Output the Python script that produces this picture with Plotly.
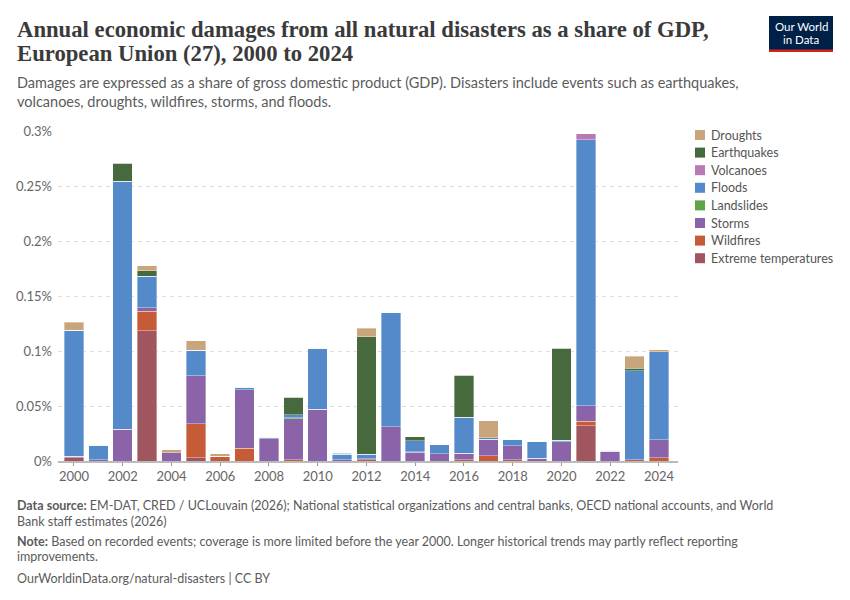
import plotly.graph_objects as go

years = list(range(2000, 2025))

extreme_temps = [0.003,0,0,0.1185,0,0.003,0,0,0,0,0,0,0,0,0,0,0,0,0,0,0,0.032,0,0,0]
wildfires     = [0,0,0,0.0176,0,0.031,0.0045,0.0115,0,0.001,0,0,0.001,0,0,0,0.001,0.005,0.001,0,0,0.004,0,0.0012,0.003]
storms        = [0.0015,0.001,0.029,0.003,0.0073,0.0433,0,0.0533,0.0203,0.0376,0.047,0.001,0.001,0.031,0.008,0.0064,0.006,0.015,0.0127,0.0027,0.0173,0.0142,0.009,0,0.0164]
landslides    = [0,0,0,0,0,0,0,0,0,0.0005,0,0,0,0,0.0005,0,0,0,0,0,0,0,0,0,0]
floods        = [0.1145,0.0133,0.2255,0.029,0,0.0233,0,0.0024,0.0015,0.003,0.0557,0.005,0.004,0.104,0.01,0.0085,0.033,0.001,0.0055,0.015,0.0015,0.2418,0.0006,0.081,0.0797]
volcanoes     = [0,0,0,0,0,0,0,0,0,0,0,0,0,0,0,0,0,0,0,0,0,0.0055,0,0,0]
earthquakes   = [0,0,0.016,0.005,0,0,0,0,0,0.016,0,0.0012,0.107,0,0.0036,0,0.038,0,0,0,0.0836,0,0,0.002,0]
droughts      = [0.007,0,0,0.0045,0.003,0.0085,0.002,0,0,0,0,0,0.0076,0,0,0,0,0.0155,0,0,0,0,0,0.011,0.002]

series = [
    ("Extreme temperatures", extreme_temps, "#A0565F"),
    ("Wildfires", wildfires, "#C65B37"),
    ("Storms", storms, "#8A63A8"),
    ("Landslides", landslides, "#5FA447"),
    ("Floods", floods, "#548AC9"),
    ("Volcanoes", volcanoes, "#B879B4"),
    ("Earthquakes", earthquakes, "#466A3E"),
    ("Droughts", droughts, "#C9A57C"),
]

y_ticks = [0, 0.05, 0.1, 0.15, 0.2, 0.25, 0.3]
y_tick_labels = ["0%", "0.05%", "0.1%", "0.15%", "0.2%", "0.25%", "0.3%"]
x_ticks = list(range(2000, 2025, 2))

W, H = 850, 600
L, R, T, B = 58, 678, 131, 461

def fx(px):
    return (px - L) / (R - L)

def fy(py):
    return (B - py) / (B - T)

fig = go.Figure()
for name, vals, col in series:
    fig.add_trace(go.Bar(
        x=years, y=vals, name=name,
        marker=dict(color=col, line=dict(color="rgba(255,255,255,0.45)", width=0.8)),
    ))

FONT = "Lato"
fig.update_layout(
    width=W, height=H,
    margin=dict(l=L, r=W - R, t=T, b=H - B, pad=0, autoexpand=False),
    paper_bgcolor="white", plot_bgcolor="white",
    barmode="stack", bargap=0.2,
    font=dict(family=FONT, size=13, color="#666"),
    showlegend=False,
    xaxis=dict(
        range=[1999.344, 2024.78], tickvals=x_ticks, ticktext=[str(t) for t in x_ticks],
        ticks="outside", ticklen=3, tickcolor="#999", showgrid=False,
        showline=True, linecolor="#bbb", linewidth=1.5, zeroline=False,
        tickfont=dict(family=FONT, size=13, color="#666"),
    ),
    yaxis=dict(
        range=[0, 0.3], tickvals=y_ticks, ticktext=y_tick_labels,
        showgrid=True, gridcolor="#ddd", griddash="4px,4px", gridwidth=1,
        zeroline=False, showline=False, ticks="", ticklabelstandoff=5,
        tickfont=dict(family=FONT, size=13, color="#666"),
    ),
)

ann = []
def text(px, py, s, size, color, family=FONT, anchor="left"):
    ann.append(dict(x=fx(px), y=fy(py), xref="paper", yref="paper", text=s, showarrow=False,
                    xanchor=anchor, yanchor="middle", align="left",
                    font=dict(family=family, size=size, color=color)))

SERIF = "Liberation Serif"
text(15, 30, "<b>Annual economic damages from all natural disasters as a share of GDP,</b>", 22.7, "#3a3a3a", SERIF)
text(15, 54, "<b>European Union (27), 2000 to 2024</b>", 22.7, "#3a3a3a", SERIF)
text(15, 83, "Damages are expressed as a share of gross domestic product (GDP). Disasters include events such as earthquakes,", 14.5, "#5b5b5b")
text(15, 101, "volcanoes, droughts, wildfires, storms, and floods.", 14.5, "#5b5b5b")

text(15, 505, "<b>Data source:</b> EM-DAT, CRED / UCLouvain (2026); National statistical organizations and central banks, OECD national accounts, and World", 12.5, "#5b5b5b")
text(15, 521, "Bank staff estimates (2026)", 12.5, "#5b5b5b")
text(15, 541, "<b>Note:</b> Based on recorded events; coverage is more limited before the year 2000. Longer historical trends may partly reflect reporting", 12.5, "#5b5b5b")
text(15, 556, "improvements.", 12.5, "#5b5b5b")
text(15, 578, "OurWorldinData.org/natural-disasters | CC BY", 12.5, "#5b5b5b")

# legend (manual, top to bottom)
for i, (name, vals, col) in enumerate(reversed(series)):
    cy = 135 + i * 17.6
    fig.add_shape(type="rect", xref="paper", yref="paper", x0=fx(695), x1=fx(705),
                  y0=fy(cy + 5), y1=fy(cy - 5), fillcolor=col, line=dict(width=0))
    text(709, cy, name, 12.5, "#555")

# logo
fig.add_shape(type="rect", xref="paper", yref="paper", x0=fx(769), x1=fx(833), y0=fy(52), y1=fy(16),
              fillcolor="#002147", line=dict(width=0))
fig.add_shape(type="rect", xref="paper", yref="paper", x0=fx(769), x1=fx(833), y0=fy(52), y1=fy(49.5),
              fillcolor="#CE261E", line=dict(width=0))
text(801, 26, "Our World", 11.5, "white", anchor="center")
text(801, 40, "in Data", 11.5, "white", anchor="center")

fig.update_layout(annotations=ann)
fig.write_html("out.html")
